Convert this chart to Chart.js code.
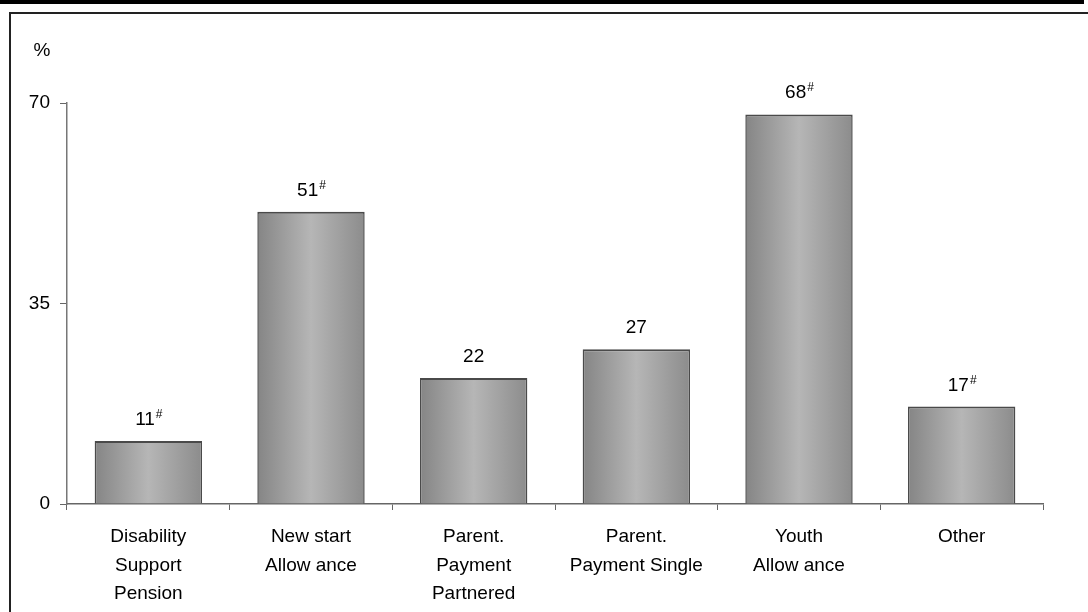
<!DOCTYPE html>
<html>
<head>
<meta charset="utf-8">
<script src="https://cdn.jsdelivr.net/npm/chart.js@4"></script>
<style>
  html, body { margin: 0; padding: 0; background: #fff; }
  #wrap { position: relative; width: 1088px; height: 612px; }
  #topbar { position: absolute; left: 0; top: 0; width: 1084px; height: 4px; background: #000; }
  #frame { position: absolute; left: 9px; top: 12px; width: 1079px; height: 600px;
           border-top: 2px solid #222; border-left: 2px solid #222; box-sizing: border-box; }
  canvas { position: absolute; left: 0; top: 0; }
</style>
</head>
<body>
<div id="wrap">
  <div id="topbar"></div>
  <div id="frame"></div>
  <canvas id="barChart" width="1088" height="612"></canvas>
</div>
<script>
// Benefit types and share (%)
const categories = [
  ['Disability', 'Support', 'Pension'],
  ['New start', 'Allow ance'],
  ['Parent.', 'Payment', 'Partnered'],
  ['Parent.', 'Payment Single'],
  ['Youth', 'Allow ance'],
  ['Other']
];
const values = [11, 51, 22, 27, 68, 17];
const flagged = [true, true, false, false, true, true]; // marked with #
const yTicks = [0, 35, 70];

const FONT = 'Arial, "Liberation Sans", sans-serif';

// gray cylinder-style fill across each bar
function barFill(ctx) {
  const chart = ctx.chart;
  const x = chart.scales.x;
  if (!chart.chartArea || !x) return '#a0a0a0';
  const cx = x.getPixelForValue(ctx.dataIndex);
  const w = x.width / categories.length * 0.66;
  const g = chart.ctx.createLinearGradient(cx - w / 2, 0, cx + w / 2, 0);
  g.addColorStop(0, '#858585');
  g.addColorStop(0.5, '#b6b6b6');
  g.addColorStop(1, '#8c8c8c');
  return g;
}

// value labels above bars, with superscript # where flagged
const valueLabels = {
  id: 'valueLabels',
  afterDatasetsDraw(chart) {
    const c = chart.ctx;
    const meta = chart.getDatasetMeta(0);
    c.save();
    c.fillStyle = '#000';
    c.textBaseline = 'alphabetic';
    meta.data.forEach((bar, i) => {
      const main = String(values[i]);
      c.font = '19px ' + FONT;
      const w1 = c.measureText(main).width;
      c.font = '12px ' + FONT;
      const w2 = flagged[i] ? c.measureText('#').width : 0;
      const left = bar.x - (w1 + w2) / 2;
      const base = bar.y - 16;
      c.font = '19px ' + FONT;
      c.textAlign = 'left';
      c.fillText(main, left, base);
      if (flagged[i]) {
        c.font = '12px ' + FONT;
        c.fillText('#', left + w1 + 1, base - 7);
      }
    });
    // unit label
    c.font = '19px ' + FONT;
    c.textAlign = 'center';
    c.fillText('%', 42, 56);
    c.restore();
  }
};

new Chart(document.getElementById('barChart'), {
  type: 'bar',
  data: {
    labels: categories,
    datasets: [{
      data: values,
      backgroundColor: barFill,
      borderColor: '#4a4a4a',
      borderWidth: { top: 2, left: 1.5, right: 1.5, bottom: 0 },
      borderSkipped: 'bottom',
      categoryPercentage: 1,
      barPercentage: 0.66
    }]
  },
  options: {
    responsive: false,
    animation: false,
    layout: { padding: { top: 103, right: 45, left: 0, bottom: 0 } },
    plugins: { legend: { display: false }, tooltip: { enabled: false } },
    scales: {
      x: {
        afterFit(s) { s.height = 108; },
        grid: { display: true, drawOnChartArea: false, drawTicks: true, tickLength: 6, color: '#666', offset: true },
        border: { color: '#666', width: 1.5 },
        ticks: { color: '#000', font: { family: FONT, size: 19, lineHeight: 1.52 }, padding: 12, maxRotation: 0, autoSkip: false }
      },
      y: {
        min: 0,
        max: 70,
        afterFit(s) { s.width = 67; },
        afterBuildTicks(s) { s.ticks = yTicks.map(v => ({ value: v })); },
        grid: { display: true, drawOnChartArea: false, drawTicks: true, tickLength: 7, color: '#666' },
        border: { color: '#777', width: 1.5 },
        ticks: { color: '#000', font: { family: FONT, size: 19 }, padding: 10 }
      }
    }
  },
  plugins: [valueLabels]
});
</script>
</body>
</html>
